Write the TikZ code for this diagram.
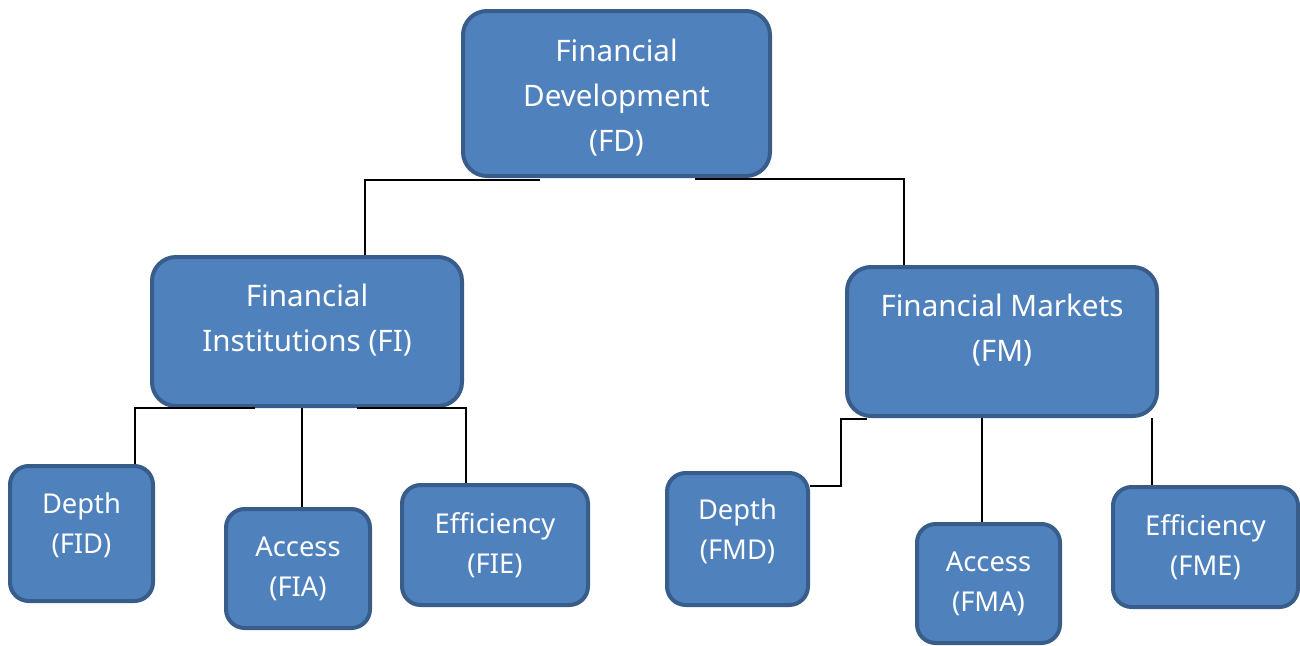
\documentclass[tikz,border=0pt]{standalone}
\usepackage{fontspec}
\setmainfont{Noto Sans}
\usetikzlibrary{calc}
\definecolor{boxfill}{HTML}{4F81BD}
\definecolor{boxline}{HTML}{385D8A}
\newcommand{\updepth}[1]{\rule[-#1]{0pt}{#1}}
\newcommand{\uphigh}[1]{\rule{0pt}{#1}}
\tikzset{
  box/.style={draw=boxline, fill=boxfill, line width=3pt, text=white, align=center, inner sep=0pt},
  bigbox/.style={box, rounded corners=18pt, font=\fontsize{22.2}{33.75}\selectfont},
  smallbox/.style={box, rounded corners=14pt, font=\fontsize{20.5}{30}\selectfont},
  link/.style={draw=black, line width=1pt},
  trunk/.style={draw=black, line width=2.2pt}
}
\begin{document}
\begin{tikzpicture}[x=0.75pt, y=-0.75pt]
\useasboundingbox (0,0) rectangle (1300,646);
% boxes
\node[bigbox, minimum width=230.25pt, minimum height=123.75pt] (FD) at (616.5,93.5) {\uphigh{23pt}Financial\\Development\\(FD)};
\node[bigbox, minimum width=232.5pt, minimum height=111.75pt] (FI) at (307,331.5) {Financial\\Institutions (FI)\updepth{20.5pt}};
\node[bigbox, minimum width=232.5pt, minimum height=111.75pt] (FM) at (1002,341.5) {Financial Markets\\(FM)\updepth{21pt}};
\node[smallbox, minimum width=107.25pt, minimum height=101.25pt] (FID) at (81.5,533.5) {Depth\\(FID)\updepth{15.5pt}};
\node[smallbox, minimum width=108pt, minimum height=89.25pt] (FIA) at (298,568.5) {Access\\(FIA)};
\node[smallbox, minimum width=139.5pt, minimum height=90pt] (FIE) at (495,545) {Efficiency\\(FIE)};
\node[smallbox, minimum width=105.75pt, minimum height=99pt] (FMD) at (737.5,539) {Depth\\(FMD)\updepth{15.5pt}};
\node[smallbox, minimum width=107.25pt, minimum height=89.25pt] (FMA) at (988.5,583.5) {Access\\(FMA)};
\node[smallbox, minimum width=138.75pt, minimum height=90pt] (FME) at (1205.5,547) {Efficiency\\(FME)};
% connectors
\draw[link] ($(FD.south)+(-76.5,2)$) -| ($(FI.north)+(58,0)$);
\draw[link] ($(FD.south)+(78.5,1)$) -| ($(FM.north)+(-98,0)$);
\draw[link] ($(FI.south)+(-52,0)$) -| ($(FID.north)+(53.5,0)$);
\draw[trunk] ($(FI.south)+(-5,0)$) -- ($(FIA.north)+(4,0)$);
\draw[link] ($(FI.south)+(50,0)$) -| ($(FIE.north)+(-29,0)$);
\draw[link] ($(FM.south)+(-135,1)$) -- ($(FM.south)+(-161,1)$) |- ($(FMD.east)+(0,-53)$);
\draw[trunk] ($(FM.south)+(-20,0)$) -- ($(FMA.north)+(-6.5,0)$);
\draw[link] ($(FM.south)+(150,0)$) -- ($(FME.north)+(-53.5,0)$);
\end{tikzpicture}
\end{document}
